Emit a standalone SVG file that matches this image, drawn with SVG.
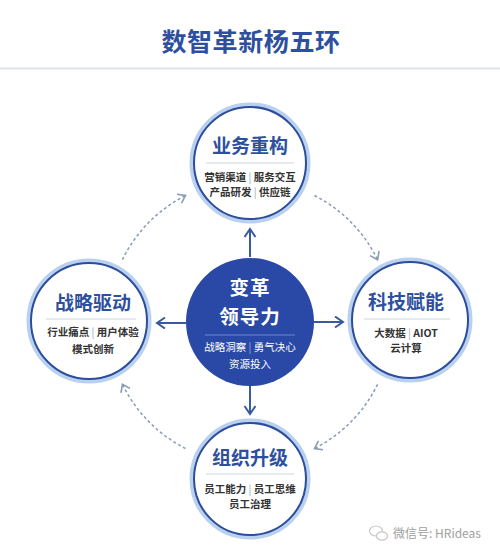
<svg xmlns="http://www.w3.org/2000/svg" width="500" height="557" viewBox="0 0 500 557">
<defs>
<style>
.halo{fill:#fff;stroke:#b9d0ef;stroke-width:5}
.ring{fill:none;stroke:#2c4d9b;stroke-width:2}
.ttl{font-family:"Noto Sans CJK SC","Noto Sans",sans-serif;font-weight:700;fill:#2d4f9e;text-anchor:middle}
.sub{font-family:"Noto Sans CJK SC","Noto Sans",sans-serif;font-weight:700;fill:#333;font-size:10.5px;text-anchor:middle}
.sep{stroke:#ccd6e4;stroke-width:1}
.bar{fill:#9aa6b8;font-weight:400}
.ctr{font-family:"Noto Sans CJK SC","Noto Sans",sans-serif;fill:#fff;text-anchor:middle}
.solid{fill:none;stroke:#3a5a9c;stroke-width:2}
.dash{fill:none;stroke:#8a9bb4;stroke-width:1.5;stroke-dasharray:3 2.5}
</style>
<marker id="ah" markerUnits="userSpaceOnUse" markerWidth="14" markerHeight="14" refX="9" refY="6" orient="auto">
<path d="M1,0.5 L9,6 L1,11.5" fill="none" stroke="#3a5a9c" stroke-width="2"/>
</marker>
<marker id="dh" markerUnits="userSpaceOnUse" markerWidth="14" markerHeight="14" refX="8" refY="6" orient="auto">
<path d="M1,1 L8,6 L1,11" fill="none" stroke="#8a9bb4" stroke-width="1.6"/>
</marker>
</defs>
<rect width="500" height="557" fill="#fff"/>
<g id="title">
<text x="251" y="51" font-family="'Noto Sans CJK SC','Noto Sans',sans-serif" font-weight="700" font-size="25" fill="#2d4f9e" text-anchor="middle" letter-spacing="0.6">数智革新杨五环</text>
<line x1="0" y1="68.5" x2="500" y2="68.5" stroke="#dde3ea" stroke-width="2"/>
</g>
<g id="connectors">
<line class="solid" x1="250" y1="257" x2="250" y2="229" marker-end="url(#ah)"/>
<line class="solid" x1="186" y1="323" x2="157" y2="323" marker-end="url(#ah)"/>
<line class="solid" x1="314" y1="322" x2="343" y2="322" marker-end="url(#ah)"/>
<line class="solid" x1="250" y1="386" x2="250" y2="414" marker-end="url(#ah)"/>
<path class="dash" d="M122.4,259.7 A142,142 0 0 1 185.5,195.5" marker-end="url(#dh)"/>
<path class="dash" d="M314.5,195.5 A142,142 0 0 1 377.6,259.7" marker-end="url(#dh)"/>
<path class="dash" d="M377.6,384.3 A142,142 0 0 1 314.5,448.5" marker-end="url(#dh)"/>
<path class="dash" d="M185.5,448.5 A142,142 0 0 1 122.4,384.3" marker-end="url(#dh)"/>
</g>
<g id="center">
<circle cx="250" cy="322" r="64" fill="#2a49a6"/>
<text class="ctr" x="250" y="295" font-size="19.5" font-weight="700" letter-spacing="1">变革</text>
<text class="ctr" x="250" y="324" font-size="19.5" font-weight="700" letter-spacing="1">领导力</text>
<line x1="205" y1="335" x2="295" y2="335" stroke="#6f88cf" stroke-width="1"/>
<text class="ctr" x="250" y="351" font-size="10.5">战略洞察 <tspan fill="#9fb1e0">|</tspan> 勇气决心</text>
<text class="ctr" x="250" y="368" font-size="10.5">资源投入</text>
</g>
<g id="top">
<circle class="halo" cx="250" cy="163" r="58"/>
<circle class="ring" cx="250" cy="163" r="56"/>
<text class="ttl" x="250" y="153" font-size="19">业务重构</text>
<line class="sep" x1="206" y1="163" x2="294" y2="163"/>
<text class="sub" x="250" y="181">营销渠道 <tspan class="bar">|</tspan> 服务交互</text>
<text class="sub" x="250" y="196">产品研发 <tspan class="bar">|</tspan> 供应链</text>
</g>
<g id="left">
<circle class="halo" cx="89" cy="321" r="60"/>
<circle class="ring" cx="89" cy="321" r="58"/>
<text class="ttl" x="93" y="310" font-size="19">战略驱动</text>
<line class="sep" x1="46" y1="319" x2="136" y2="319"/>
<text class="sub" x="93" y="336">行业痛点 <tspan class="bar">|</tspan> 用户体验</text>
<text class="sub" x="93" y="353">模式创新</text>
</g>
<g id="right">
<circle class="halo" cx="410" cy="320" r="60"/>
<circle class="ring" cx="410" cy="320" r="58"/>
<text class="ttl" x="406" y="309" font-size="19">科技赋能</text>
<line class="sep" x1="364" y1="319" x2="450" y2="319"/>
<text class="sub" x="406" y="337">大数据 <tspan class="bar">|</tspan> AIOT</text>
<text class="sub" x="406" y="352">云计算</text>
</g>
<g id="bottom">
<circle class="halo" cx="250" cy="479" r="58"/>
<circle class="ring" cx="250" cy="479" r="56"/>
<text class="ttl" x="250" y="465" font-size="19">组织升级</text>
<line class="sep" x1="206" y1="474" x2="294" y2="474"/>
<text class="sub" x="250" y="493">员工能力 <tspan class="bar">|</tspan> 员工思维</text>
<text class="sub" x="250" y="508">员工治理</text>
</g>
<g id="watermark">
<ellipse cx="376" cy="531" rx="6.5" ry="5" fill="none" stroke="#c8c8c8" stroke-width="1.2"/>
<ellipse cx="382" cy="536" rx="5.5" ry="4.2" fill="#fff" stroke="#c8c8c8" stroke-width="1.2"/>
<text x="393" y="538" font-family="'Noto Sans CJK SC','Noto Sans',sans-serif" font-size="12" fill="#a0a0a0">微信号: HRideas</text>
</g>
</svg>
